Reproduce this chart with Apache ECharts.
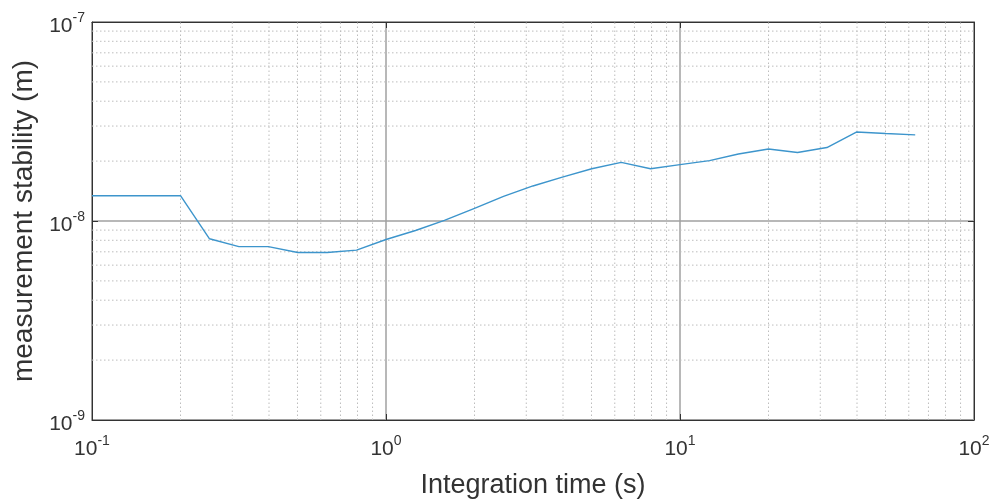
<!DOCTYPE html>
<html>
<head>
<meta charset="utf-8">
<script src="https://cdn.jsdelivr.net/npm/echarts@6/dist/echarts.min.js"></script>
<style>html,body{margin:0;padding:0;background:#fff}#c{width:998px;height:504px}</style>
</head>
<body>
<div id="c"></div>
<script>
// Integration time (s)
var integrationTime = [0.1, 0.126, 0.158, 0.2, 0.251, 0.316, 0.398, 0.501, 0.631, 0.794, 1.0, 1.26, 1.58, 2.0, 2.51, 3.16, 3.98, 5.01, 6.31, 7.94, 10.0, 12.6, 15.8, 20.0, 25.1, 31.6, 39.8, 50.1, 63.1];
// Measurement stability (m)
var stability = [1.34e-8, 1.34e-8, 1.34e-8, 1.34e-8, 8.14e-9, 7.43e-9, 7.43e-9, 6.95e-9, 6.95e-9, 7.14e-9, 8.07e-9, 8.96e-9, 1.007e-8, 1.156e-8, 1.33e-8, 1.5e-8, 1.66e-8, 1.83e-8, 1.97e-8, 1.83e-8, 1.92e-8, 2.01e-8, 2.17e-8, 2.30e-8, 2.21e-8, 2.34e-8, 2.80e-8, 2.75e-8, 2.71e-8];
// Axis ranges and minor grid values
var xMin = 0.1, xMax = 100;
var yMin = 1e-9, yMax = 1e-7;
var xMinorGrid = [0.2,0.3,0.4,0.5,0.6,0.7,0.8,0.9,2,3,4,5,6,7,8,9,20,30,40,50,60,70,80,90];
var yMinorGrid = [2e-9,3e-9,4e-9,5e-9,6e-9,7e-9,8e-9,9e-9,2e-8,3e-8,4e-8,5e-8,6e-8,7e-8,8e-8,9e-8];
var xTitle = 'Integration time (s)';
var yTitle = 'measurement stability (m)';

var FONT = 'Liberation Sans';
function powLabel(v) {
  var e = Math.round(Math.log10(v));
  return '{b|10}{s|' + e + '}';
}
var richLab = {
  b: {fontSize: 21, fontFamily: FONT, color: '#333', lineHeight: 26, verticalAlign: 'bottom'},
  s: {fontSize: 14, fontFamily: FONT, color: '#333', lineHeight: 14, verticalAlign: 'top'}
};

var chart = echarts.init(document.getElementById('c'), null, {renderer: 'canvas'});

var minorStyle = {color: '#bdbdbd', type: [1.5, 2.5], width: 1};
var minorSeries = [];
xMinorGrid.forEach(function (v) {
  minorSeries.push({type: 'line', silent: true, symbol: 'none', z: 1, animation: false,
    lineStyle: minorStyle, data: [[v, yMin], [v, yMax]]});
});
yMinorGrid.forEach(function (v) {
  minorSeries.push({type: 'line', silent: true, symbol: 'none', z: 1, animation: false,
    lineStyle: minorStyle, data: [[xMin, v], [xMax, v]]});
});

var baseAxis = {
  type: 'log', logBase: 10,
  axisLine: {show: true, lineStyle: {color: '#333'}},
  axisTick: {show: true, inside: true, length: 6, lineStyle: {color: '#333'}}
};

chart.setOption({
  animation: false,
  grid: {left: 92, right: 24, top: 22, bottom: 83, show: true, borderColor: '#333', borderWidth: 1, containLabel: false},
  xAxis: [
    Object.assign({}, baseAxis, {
      min: xMin, max: xMax, position: 'bottom',
      name: xTitle, nameLocation: 'middle', nameGap: 52,
      nameTextStyle: {fontSize: 27, fontFamily: FONT, color: '#333'},
      axisLabel: {formatter: powLabel, rich: richLab, margin: 14},
      splitLine: {show: true, lineStyle: {color: '#a0a0a0', width: 1.5}}
    }),
    Object.assign({}, baseAxis, {
      min: xMin, max: xMax, position: 'top',
      axisLabel: {show: false}, splitLine: {show: false}
    })
  ],
  yAxis: [
    Object.assign({}, baseAxis, {
      min: yMin, max: yMax, position: 'left',
      name: yTitle, nameLocation: 'middle', nameGap: 49,
      nameTextStyle: {fontSize: 28, fontFamily: FONT, color: '#333'},
      axisLabel: {formatter: powLabel, rich: richLab, margin: 7, padding: [4, 0, 0, 0]},
      splitLine: {show: true, lineStyle: {color: '#a0a0a0', width: 1.5}}
    }),
    Object.assign({}, baseAxis, {
      min: yMin, max: yMax, position: 'right',
      axisLabel: {show: false}, splitLine: {show: false}
    })
  ],
  series: minorSeries.concat([
    {
      type: 'line', z: 5, animation: false,
      data: integrationTime.map(function (x, i) { return [x, stability[i]]; }),
      showSymbol: false, symbol: 'none',
      lineStyle: {color: '#3d95cc', width: 1.4}
    }
  ])
});
</script>
</body>
</html>
